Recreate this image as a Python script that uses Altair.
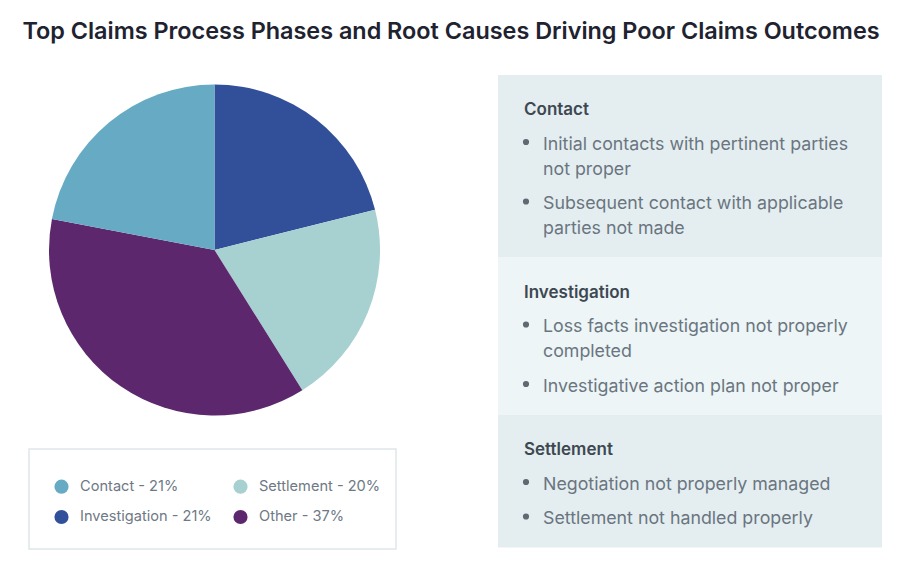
import altair as alt
import pandas as pd

# ---------------- data ----------------
phases = ["Investigation", "Settlement", "Other", "Contact"]
shares = [21.1, 20.0, 36.9, 22.0]          # slice sizes
labels_pct = [21, 20, 37, 21]               # percentages printed in the legend
legend_order = ["Contact", "Investigation", "Settlement", "Other"]
phase_colors = {"Contact": "#66aac3", "Investigation": "#324f99",
                "Settlement": "#a7d0d0", "Other": "#5d276d"}

panel_titles = ["Contact", "Investigation", "Settlement"]
panel_bullets = [
    [["Initial contacts with pertinent parties", "not proper"],
     ["Subsequent contact with applicable", "parties not made"]],
    [["Loss facts investigation not properly", "completed"],
     ["Investigative action plan not proper"]],
    [["Negotiation not properly managed"],
     ["Settlement not handled properly"]],
]
panel_fills = ["#e4eef0", "#edf5f7", "#e4eef0"]

TITLE = "Top Claims Process Phases and Root Causes Driving Poor Claims Outcomes"

# ---------------- layout ----------------
W, H, TOP = 890, 497, 60
PX0, PX1 = 490, 874          # panel x-range (plot coords)
PY0 = 7                      # first panel top
HEAD_OFF, FIRST_OFF, LINE, GAP, BOTTOM = 40, 34.5, 25, 34.5, 23.5
HEAD_X, DOT_X, TXT_X = 516, 518, 535
LEG_BOX = {"x0": 21, "x1": 388, "y0": 381, "y1": 481}

pie_rows = []
for i, (p, s, pct) in enumerate(zip(phases, shares, labels_pct)):
    pie_rows.append({"phase": p, "share": s, "ord": i,
                     "label": f"{p} - {pct}%"})
pie_df = pd.DataFrame(pie_rows)
legend_domain = [f"{p} - {labels_pct[phases.index(p)]}%" for p in legend_order]
legend_range = [phase_colors[p] for p in legend_order]

panels, lines, dots = [], [], []
y = PY0
for title, bullets, fill in zip(panel_titles, panel_bullets, panel_fills):
    top = y
    base = top + HEAD_OFF
    lines.append({"x": HEAD_X, "y": base, "text": title, "kind": "head"})
    base += FIRST_OFF
    for bi, bl in enumerate(bullets):
        if bi > 0:
            base += GAP
        dots.append({"x": DOT_X, "y": base - 7.5})
        for li, t in enumerate(bl):
            if li > 0:
                base += LINE
            lines.append({"x": TXT_X, "y": base, "text": t, "kind": "body"})
    bottom = base + BOTTOM
    panels.append({"x0": PX0, "x1": PX1, "y0": top, "y1": bottom, "fill": fill})
    y = bottom

panels_df = pd.DataFrame(panels)
lines_df = pd.DataFrame(lines)
dots_df = pd.DataFrame(dots)
legbox_df = pd.DataFrame([LEG_BOX])

xs = alt.Scale(domain=[0, W], range=[0, W])
ys = alt.Scale(domain=[0, H], range=[0, H])

pie = alt.Chart(pie_df).mark_arc(outerRadius=165.5, stroke=None).encode(
    theta=alt.Theta("share:Q", stack=True),
    order=alt.Order("ord:Q"),
    color=alt.Color("label:N", scale=alt.Scale(domain=legend_domain, range=legend_range),
                    legend=alt.Legend(
                        title=None, orient="none", legendX=46, legendY=411,
                        columns=2, columnPadding=21, rowPadding=14.5,
                        symbolType="circle", symbolSize=201, symbolStrokeWidth=0,
                        labelFont="Inter", labelFontSize=14.6, labelColor="#6e7985",
                        labelOffset=11, padding=0, labelLimit=300)),
    x=alt.value(206.5), y=alt.value(182),
)

legbox = alt.Chart(legbox_df).mark_rect(fill="#ffffff", stroke="#dfe6e9",
                                        strokeWidth=1.5).encode(
    x=alt.X("x0:Q", scale=xs, axis=None), x2="x1:Q",
    y=alt.Y("y0:Q", scale=ys, axis=None), y2="y1:Q")

rects = alt.Chart(panels_df).mark_rect().encode(
    x=alt.X("x0:Q", scale=xs, axis=None), x2="x1:Q",
    y=alt.Y("y0:Q", scale=ys, axis=None), y2="y1:Q",
    color=alt.Color("fill:N", scale=None),
)

heads = alt.Chart(lines_df[lines_df.kind == "head"]).mark_text(
    align="left", baseline="alphabetic", font="Inter", fontSize=17,
    fontWeight=600, color="#3d4852").encode(
    x=alt.X("x:Q", scale=xs, axis=None), y=alt.Y("y:Q", scale=ys, axis=None),
    text="text:N")

body = alt.Chart(lines_df[lines_df.kind == "body"]).mark_text(
    align="left", baseline="alphabetic", font="Inter", fontSize=17.8,
    color="#6a7580").encode(
    x=alt.X("x:Q", scale=xs, axis=None), y=alt.Y("y:Q", scale=ys, axis=None),
    text="text:N")

bul = alt.Chart(dots_df).mark_circle(size=38, color="#5f6972", opacity=1).encode(
    x=alt.X("x:Q", scale=xs, axis=None), y=alt.Y("y:Q", scale=ys, axis=None))

chart = alt.layer(rects, legbox, bul, heads, body, pie).properties(
    width=W, height=H,
    padding={"top": TOP, "left": 0, "right": 0, "bottom": 0},
    autosize=alt.AutoSizeParams(type="none"),
    title=alt.Title(TITLE, font="Inter", fontSize=23.4, fontWeight=600,
                    color="#20232f", anchor="middle", baseline="alphabetic",
                    offset=6, frame="group", dx=-2),
).configure_view(stroke=None)

chart.save("out.html", embed_options={"renderer": "svg", "actions": False})
